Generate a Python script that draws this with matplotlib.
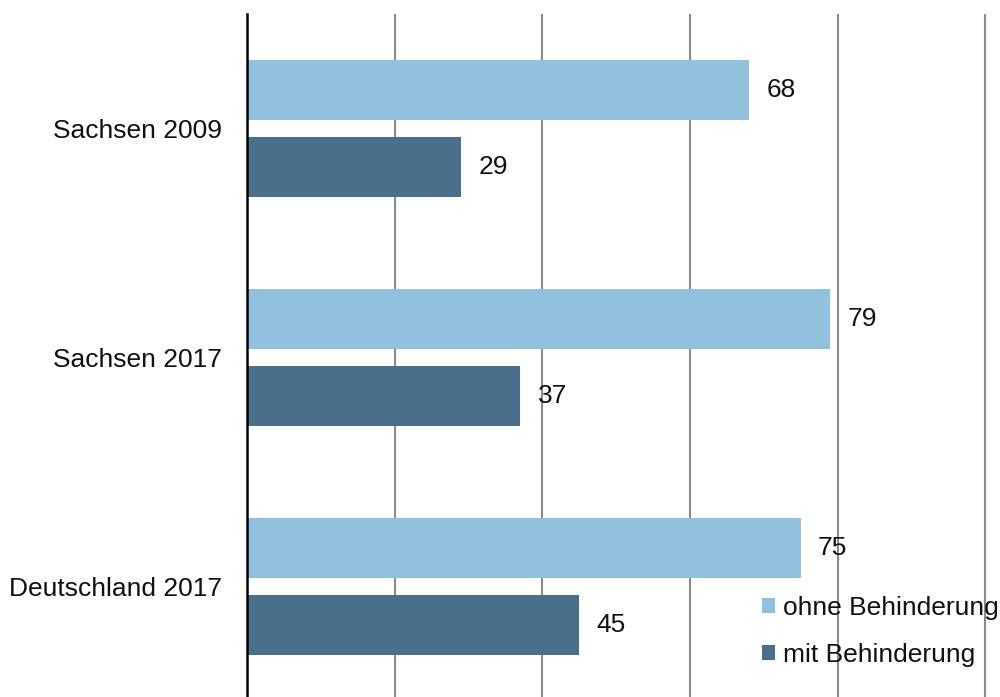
import numpy as np
import matplotlib
matplotlib.use('Agg')
import matplotlib.pyplot as plt

plt.rcParams['font.family'] = ['Liberation Sans', 'DejaVu Sans']

categories = ['Sachsen 2009', 'Sachsen 2017', 'Deutschland 2017']
ohne = [68, 79, 75]
mit = [29, 37, 45]
series_names = ['ohne Behinderung', 'mit Behinderung']

col_light = '#92C1DE'
col_dark = '#4A6F8A'
fs = 19

fig = plt.figure(figsize=(10, 6.97), dpi=100)
ax = fig.add_axes([0.247, -0.0057, 0.753, 0.9857])

y = np.arange(len(categories))
h = 0.262
b1 = ax.barh(y - 0.17, ohne, height=h, color=col_light, label=series_names[0], zorder=3)
b2 = ax.barh(y + 0.17, mit, height=h, color=col_dark, label=series_names[1], zorder=3)

for bars, vals in ((b1, ohne), (b2, mit)):
    for bar, v in zip(bars, vals):
        ax.annotate(str(v), (v, bar.get_y() + bar.get_height() / 2),
                    xytext=(12.5, 0), textcoords='offset points',
                    va='center', ha='left', fontsize=fs, color='#111111', zorder=4)

ax.set_xlim(0, 102)
ax.set_ylim(2.5, -0.5)
ax.set_xticks([20, 40, 60, 80, 100])
ax.set_yticks(y)
ax.set_yticklabels(categories, fontsize=fs, color='#111111')
ax.tick_params(axis='y', length=0, pad=18)
ax.tick_params(axis='x', length=0, labelbottom=False)
ax.grid(axis='x', color='#8c8c8c', linewidth=1.5, zorder=1)

for s in ('top', 'right', 'bottom'):
    ax.spines[s].set_visible(False)
ax.spines['left'].set_color('black')
ax.spines['left'].set_linewidth(1.8)
ax.spines['left'].set_zorder(5)

fig.legend(handles=[b1, b2], labels=series_names, loc='center left',
           bbox_to_anchor=(0.762, 0.094), frameon=False, fontsize=fs,
           handlelength=0.5, handleheight=0.5, handletextpad=0.3,
           labelspacing=0.85, borderpad=0, borderaxespad=0, labelcolor='#111111')

fig.savefig('out.png', dpi=100)
